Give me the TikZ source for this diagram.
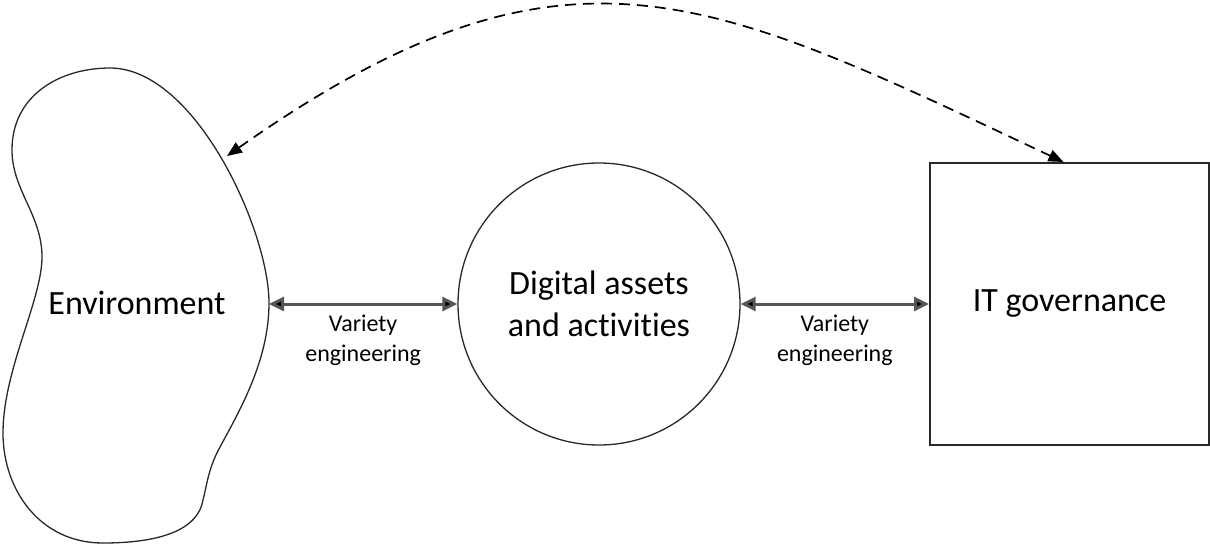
\documentclass[tikz,border=0pt]{standalone}
\usepackage{fontspec}
\setmainfont{Carlito}[Ligatures={NoCommon,NoRequired,NoContextual}]
\usetikzlibrary{arrows.meta}
\definecolor{lineclr}{RGB}{40,40,40}
\definecolor{arrclr}{RGB}{85,85,85}
\tikzset{
  bigtext/.style={font=\fontsize{34}{42}\selectfont, align=center, text=black},
  smalltext/.style={font=\fontsize{24}{30}\selectfont, align=center, text=black, inner sep=0pt},
  shapeline/.style={draw=lineclr, line width=1.3pt},
  twoway/.style={draw=arrclr, line width=3pt, {Triangle[length=15pt,width=14pt,fill=black]}-{Triangle[length=15pt,width=14pt,fill=black]}},
  dashlink/.style={draw=black, line width=1.7pt, dash pattern=on 11pt off 7pt, {Triangle[length=15pt,width=12pt]}-{Triangle[length=15pt,width=12pt]}}
}
\begin{document}
\begin{tikzpicture}[x=1pt,y=-1pt]
\useasboundingbox (0,0) rectangle (1210,550);
% Environment blob
\draw[shapeline] (110,68)
  .. controls (195,68) and (269,230) .. (269,303)
  .. controls (269,360) and (240,410) .. (220,447)
  .. controls (208,469) and (207,485) .. (203,500)
  .. controls (198,530) and (160,543) .. (103,543)
  .. controls (40,543) and (3,490) .. (3,433)
  .. controls (3,370) and (42,300) .. (42,257)
  .. controls (42,215) and (12,190) .. (12,150)
  .. controls (12,95) and (60,68) .. cycle;
\node[bigtext] (env) at (137,303) {Environment};
\coordinate (envR) at (269,304);
\coordinate (envT) at (227,156);
% Digital assets circle
\node[shapeline, circle, minimum size=282pt, inner sep=0pt, bigtext] (dig) at (599,304) {Digital assets\\and activities};
% IT governance box
\node[draw=lineclr, line width=2pt, minimum width=279pt, minimum height=282pt, inner sep=0pt, bigtext] (gov) at (1069.5,304) {IT governance};
% connectors
\draw[twoway] (envR) -- node[smalltext, below=9pt] {Variety\\engineering} (dig.west);
\draw[twoway] (dig.east) -- node[smalltext, below=9pt] {Variety\\engineering} (gov.west);
\draw[dashlink] (envT) .. controls (567,-83) and (710,-4) .. ([xshift=-6pt]gov.north);
\end{tikzpicture}
\end{document}
